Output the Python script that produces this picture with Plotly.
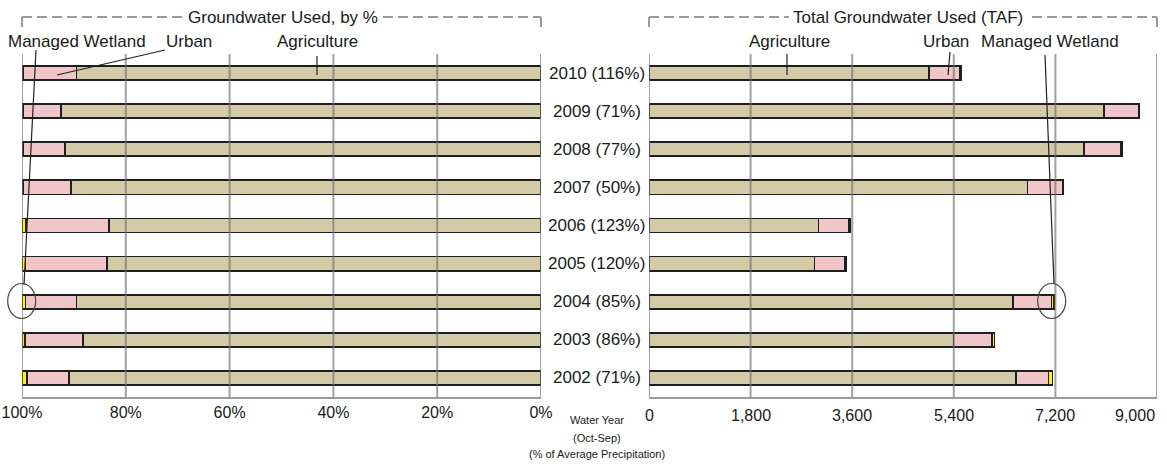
import plotly.graph_objects as go

# ---------------- data ----------------
years = ["2010", "2009", "2008", "2007", "2006", "2005", "2004", "2003", "2002"]
year_labels = ["2010 (116%)", "2009 (71%)", "2008 (77%)", "2007 (50%)", "2006 (123%)",
               "2005 (120%)", "2004 (85%)", "2003 (86%)", "2002 (71%)"]

# share of groundwater used, % (left panel)
ag_pct = [89.5, 92.5, 91.7, 90.6, 83.2, 83.6, 89.5, 88.2, 90.9]
urban_pct = [10.2, 7.2, 8.0, 9.1, 16.0, 15.7, 9.8, 11.2, 8.1]
wetland_pct = [0.3, 0.3, 0.3, 0.3, 0.8, 0.7, 0.7, 0.6, 1.0]

# total groundwater used, TAF (right panel)
ag_taf = [4956, 8065, 7712, 6708, 3004, 2933, 6453, 5393, 6503]
urban_taf = [558, 605, 653, 622, 534, 538, 678, 686, 577]
wetland_taf = [15, 15, 20, 15, 28, 25, 50, 40, 70]

pct_ticks = [100, 80, 60, 40, 20, 0]
pct_tick_labels = ["100%", "80%", "60%", "40%", "20%", "0%"]
taf_ticks = [0, 1800, 3600, 5400, 7200, 9000]
taf_tick_labels = ["0", "1,800", "3,600", "5,400", "7,200", "9,000"]

categories = ["Agriculture", "Urban", "Managed Wetland"]

# ---------------- style ----------------
W, H = 1167, 467
FONT = "Liberation Sans, Arial, sans-serif"
TXT = "#1a1a1a"
COLORS = {"Agriculture": "#D3CAA8", "Urban": "#F0C6C8", "Managed Wetland": "#FFF200"}
EDGE = "#1f1f1f"
GRID = "rgba(110,110,110,0.65)"
DASH = "#9a9a9a"
BAR_W = 0.37


def px(x):
    return x / W


def py(y):
    return 1 - y / H


fig = go.Figure()

left_vals = {"Agriculture": ag_pct, "Urban": urban_pct, "Managed Wetland": wetland_pct}
right_vals = {"Agriculture": ag_taf, "Urban": urban_taf, "Managed Wetland": wetland_taf}

for cat in categories:
    fig.add_trace(go.Bar(
        x=left_vals[cat], y=years, orientation="h", name=cat,
        xaxis="x", yaxis="y", width=BAR_W,
        marker=dict(color=COLORS[cat], line=dict(color=EDGE, width=1.7)),
        showlegend=False, hoverinfo="x+y+name"))
for cat in categories:
    fig.add_trace(go.Bar(
        x=right_vals[cat], y=years, orientation="h", name=cat,
        xaxis="x2", yaxis="y", width=BAR_W,
        marker=dict(color=COLORS[cat], line=dict(color=EDGE, width=1.7)),
        showlegend=False, hoverinfo="x+y+name"))

shapes = []
# vertical grid lines drawn above the bars
for t in pct_ticks:
    shapes.append(dict(type="line", xref="x", yref="paper", x0=t, x1=t,
                       y0=py(397), y1=py(54), layer="above",
                       line=dict(color=GRID, width=2)))
for t in taf_ticks:
    shapes.append(dict(type="line", xref="x2", yref="paper", x0=t, x1=t,
                       y0=py(397), y1=py(54), layer="above",
                       line=dict(color=GRID, width=2)))

# dashed header brackets
dash_segments = [
    ((22, 17), (184, 17)), ((383, 17), (541, 17)),
    ((22, 17), (22, 30)), ((541, 17), (541, 30)),
    ((649, 17), (789, 17)), ((1032, 17), (1157, 17)),
    ((649, 17), (649, 29)), ((1157, 17), (1157, 29)),
]
for (a, b) in dash_segments:
    shapes.append(dict(type="line", xref="paper", yref="paper",
                       x0=px(a[0]), y0=py(a[1]), x1=px(b[0]), y1=py(b[1]),
                       line=dict(color=DASH, width=2, dash="10px,5px")))

# leader lines for the category labels
leaders = [
    ((36, 50), (24, 285)),      # left Managed Wetland
    ((165, 50), (57, 75)),      # left Urban
    ((317, 56), (317, 75)),     # left Agriculture
    ((787, 54), (787, 75)),     # right Agriculture
    ((950, 52), (948, 75)),     # right Urban
    ((1045, 55), (1054, 284)),  # right Managed Wetland
]
for (a, b) in leaders:
    shapes.append(dict(type="line", xref="paper", yref="paper",
                       x0=px(a[0]), y0=py(a[1]), x1=px(b[0]), y1=py(b[1]),
                       layer="above", line=dict(color="#222", width=1.2)))

# highlight circles around the 2004 managed wetland values
for cx, cy in [(21.7, 301), (1051.7, 301)]:
    shapes.append(dict(type="circle", xref="paper", yref="paper",
                       x0=px(cx - 14), x1=px(cx + 14), y0=py(cy + 17.5), y1=py(cy - 17.5),
                       layer="above", line=dict(color="#444", width=1.2)))

annotations = []


def label(text, x, y, size=17, family=FONT, xref="paper", yref="paper", xanchor="center"):
    annotations.append(dict(text=text, x=x, y=y, xref=xref, yref=yref,
                            xanchor=xanchor, yanchor="middle", showarrow=False,
                            font=dict(family=family, size=size, color=TXT)))


# headers
label("Groundwater Used, by %", px(283), py(17))
label("Total Groundwater Used (TAF)", px(908), py(17))
# category labels
cat_label_pos = [("Managed Wetland", 77), ("Urban", 189), ("Agriculture", 317),
                 ("Agriculture", 789), ("Urban", 946), ("Managed Wetland", 1050)]
for txt, x in cat_label_pos:
    label(txt, px(x), py(41))
# water-year labels between the panels (positioned on the category axis by index)
for i, lab in enumerate(year_labels):
    label(lab, px(597), i, yref="y")
# right-axis tick labels
for t, lab in zip(taf_ticks, taf_tick_labels):
    label(lab, t, py(415), size=16, xref="x2",
          xanchor="right" if t == taf_ticks[-1] else "center")
# center axis title
for txt, y in [("Water Year", 420), ("(Oct-Sep)", 438), ("(% of Average Precipitation)", 454)]:
    label(txt, px(597), py(y), size=11)

fig.update_layout(
    template="none",
    width=W, height=H,
    margin=dict(l=0, r=0, t=0, b=0, pad=0),
    paper_bgcolor="white", plot_bgcolor="white",
    barmode="stack",
    font=dict(family=FONT, color=TXT),
    xaxis=dict(domain=[px(22), px(541)], range=[100, 0], anchor="y", automargin=False,
               tickvals=pct_ticks, ticktext=pct_tick_labels, showgrid=False, zeroline=False,
               showline=True, linecolor="#9a9a9a", linewidth=2, ticks="",
               tickfont=dict(family=FONT, size=16, color=TXT), fixedrange=True),
    xaxis2=dict(domain=[px(649), px(1157)], range=[0, 9000], anchor="y", automargin=False,
                tickvals=taf_ticks, showticklabels=False, showgrid=False, zeroline=False,
                showline=True, linecolor="#9a9a9a", linewidth=2, ticks="", fixedrange=True),
    yaxis=dict(domain=[py(397), py(54)], type="category", categoryorder="array",
               categoryarray=years, range=[8.5, -0.5], showticklabels=False, automargin=False,
               showgrid=False, zeroline=False, showline=False, fixedrange=True),
    shapes=shapes,
    annotations=annotations,
)

fig.write_html("out.html", config={"displayModeBar": False},
               post_script="document.body.style.margin='0';document.body.style.overflow='hidden';")
